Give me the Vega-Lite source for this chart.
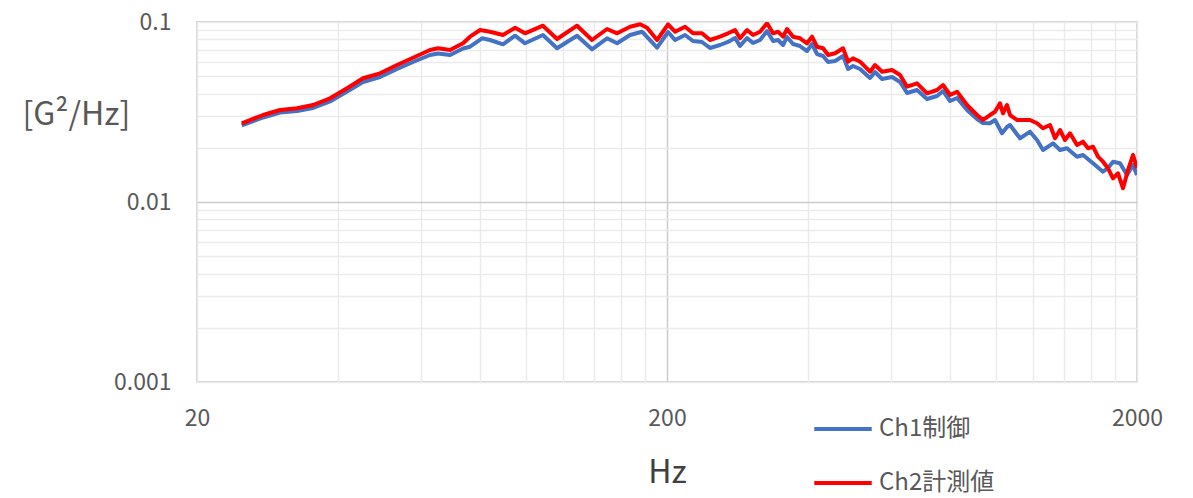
{
  "$schema": "https://vega.github.io/schema/vega-lite/v6.json",
  "width": 940,
  "height": 360,
  "autosize": "none",
  "padding": {"left": 197, "top": 22, "right": 56, "bottom": 116},
  "background": "white",
  "config": {
    "font": "Noto Sans CJK JP",
    "view": {"stroke": "#c4c4c4", "strokeWidth": 1.5}
  },
  "datasets": {
    "ch1": [
      {"f":24.90,"v":0.02661},{"f":27.64,"v":0.02948},{"f":30.04,"v":0.03142},{"f":32.65,"v":0.03203},{"f":35.31,"v":0.03328},{"f":38.38,"v":0.03617},{"f":41.71,"v":0.04110},{"f":45.11,"v":0.04642},{"f":49.02,"v":0.04948},{"f":53.29,"v":0.05481},{"f":57.62,"v":0.05995},{"f":62.64,"v":0.06557},{"f":65.14,"v":0.06684},{"f":69.09,"v":0.06557},{"f":73.63,"v":0.07125},{"f":76.20,"v":0.07291},{"f":80.83,"v":0.08118},{"f":84.04,"v":0.07943},{"f":89.55,"v":0.07518},{"f":95.01,"v":0.08392},{"f":99.75,"v":0.07615},{"f":108.9,"v":0.08468},{"f":116.7,"v":0.07144},{"f":128.7,"v":0.08392},{"f":138.5,"v":0.07052},{"f":149.1,"v":0.08118},{"f":156.6,"v":0.07615},{"f":166.9,"v":0.08468},{"f":177.0,"v":0.08833},{"f":190.5,"v":0.07198},{"f":201.0,"v":0.08799},{"f":208.0,"v":0.07943},{"f":218.5,"v":0.08468},{"f":227.2,"v":0.07842},{"f":237.4,"v":0.07743},{"f":246.9,"v":0.07170},{"f":259.3,"v":0.07451},{"f":269.7,"v":0.07743},{"f":279.1,"v":0.08149},{"f":286.0,"v":0.07356},{"f":296.0,"v":0.08149},{"f":304.9,"v":0.07644},{"f":315.5,"v":0.07943},{"f":326.5,"v":0.08913},{"f":336.3,"v":0.07842},{"f":344.6,"v":0.07943},{"f":353.1,"v":0.07451},{"f":360.1,"v":0.08254},{"f":370.8,"v":0.07547},{"f":383.8,"v":0.07356},{"f":397.2,"v":0.06900},{"f":407.0,"v":0.07547},{"f":417.1,"v":0.06641},{"f":429.6,"v":0.06473},{"f":440.3,"v":0.05995},{"f":455.6,"v":0.06072},{"f":473.8,"v":0.06473},{"f":485.6,"v":0.05481},{"f":497.6,"v":0.05696},{"f":515.0,"v":0.05481},{"f":540.8,"v":0.04885},{"f":554.2,"v":0.05275},{"f":573.6,"v":0.04823},{"f":602.4,"v":0.04948},{"f":626.4,"v":0.04642},{"f":648.3,"v":0.04032},{"f":680.8,"v":0.04190},{"f":715.0,"v":0.03734},{"f":750.9,"v":0.03881},{"f":773.3,"v":0.04137},{"f":800.3,"v":0.03640},{"f":828.2,"v":0.03783},{"f":869.8,"v":0.03244},{"f":913.4,"v":0.02892},{"f":940.7,"v":0.02747},{"f":973.2,"v":0.02737},{"f":997.5,"v":0.02855},{"f":1032.3,"v":0.02408},{"f":1057.9,"v":0.02610},{"f":1073.6,"v":0.02678},{"f":1127.5,"v":0.02259},{"f":1184.1,"v":0.02458},{"f":1225.4,"v":0.02210},{"f":1262.0,"v":0.01945},{"f":1325.4,"v":0.02119},{"f":1371.6,"v":0.01945},{"f":1419.4,"v":0.01988},{"f":1490.7,"v":0.01785},{"f":1535.2,"v":0.01824},{"f":1612.3,"v":0.01641},{"f":1693.2,"v":0.01474},{"f":1735.2,"v":0.01545},{"f":1778.2,"v":0.01675},{"f":1840.2,"v":0.01641},{"f":1904.4,"v":0.01413},{"f":1961.2,"v":0.01605},{"f":2000,"v":0.01413}
    ],
    "ch2": [
      {"f":24.90,"v":0.02737},{"f":27.64,"v":0.03043},{"f":30.04,"v":0.03244},{"f":32.65,"v":0.03316},{"f":35.31,"v":0.03459},{"f":38.38,"v":0.03768},{"f":41.71,"v":0.04282},{"f":45.11,"v":0.04867},{"f":49.02,"v":0.05188},{"f":53.29,"v":0.05769},{"f":57.62,"v":0.06334},{"f":62.64,"v":0.06989},{"f":65.14,"v":0.07144},{"f":69.09,"v":0.06989},{"f":73.63,"v":0.07615},{"f":76.20,"v":0.08286},{"f":80.04,"v":0.09027},{"f":84.04,"v":0.08833},{"f":89.55,"v":0.08468},{"f":95.01,"v":0.09297},{"f":99.75,"v":0.08654},{"f":108.9,"v":0.09538},{"f":116.7,"v":0.08046},{"f":128.7,"v":0.09538},{"f":138.5,"v":0.07943},{"f":149.1,"v":0.09144},{"f":156.6,"v":0.08654},{"f":166.9,"v":0.09416},{"f":175.3,"v":0.09710},{"f":181.4,"v":0.09297},{"f":190.5,"v":0.07943},{"f":201.0,"v":0.09710},{"f":208.0,"v":0.08833},{"f":218.5,"v":0.09416},{"f":227.2,"v":0.08654},{"f":237.4,"v":0.08654},{"f":246.9,"v":0.07943},{"f":259.3,"v":0.08286},{"f":269.7,"v":0.08654},{"f":279.1,"v":0.09027},{"f":286.0,"v":0.08118},{"f":296.0,"v":0.09027},{"f":304.9,"v":0.08468},{"f":315.5,"v":0.08833},{"f":326.5,"v":0.09835},{"f":336.3,"v":0.08654},{"f":344.6,"v":0.08833},{"f":353.1,"v":0.08286},{"f":360.1,"v":0.09144},{"f":370.8,"v":0.08286},{"f":383.8,"v":0.08118},{"f":397.2,"v":0.07615},{"f":407.0,"v":0.08286},{"f":417.1,"v":0.07291},{"f":429.6,"v":0.07144},{"f":440.3,"v":0.06557},{"f":455.6,"v":0.06701},{"f":473.8,"v":0.07144},{"f":485.6,"v":0.06018},{"f":497.6,"v":0.06286},{"f":515.0,"v":0.06018},{"f":540.8,"v":0.05295},{"f":554.2,"v":0.05769},{"f":573.6,"v":0.05295},{"f":602.4,"v":0.05412},{"f":626.4,"v":0.05076},{"f":648.3,"v":0.04371},{"f":680.8,"v":0.04565},{"f":715.0,"v":0.04017},{"f":750.9,"v":0.04190},{"f":773.3,"v":0.04467},{"f":800.3,"v":0.03930},{"f":828.2,"v":0.04100},{"f":869.8,"v":0.03459},{"f":913.4,"v":0.03043},{"f":940.7,"v":0.02855},{"f":973.2,"v":0.03043},{"f":997.5,"v":0.03174},{"f":1022.2,"v":0.03535},{"f":1037.3,"v":0.03110},{"f":1057.9,"v":0.03459},{"f":1073.6,"v":0.03043},{"f":1111.0,"v":0.02855},{"f":1144.2,"v":0.02855},{"f":1184.1,"v":0.02855},{"f":1225.4,"v":0.02737},{"f":1262.0,"v":0.02567},{"f":1306.0,"v":0.02678},{"f":1338.4,"v":0.02259},{"f":1371.6,"v":0.02512},{"f":1405.6,"v":0.02210},{"f":1440.5,"v":0.02408},{"f":1490.7,"v":0.02073},{"f":1535.2,"v":0.02163},{"f":1573.3,"v":0.01988},{"f":1612.3,"v":0.02029},{"f":1652.3,"v":0.01785},{"f":1693.2,"v":0.01675},{"f":1735.2,"v":0.01539},{"f":1778.2,"v":0.01354},{"f":1822.3,"v":0.01444},{"f":1867.5,"v":0.01192},{"f":1913.8,"v":0.01506},{"f":1961.2,"v":0.01824},{"f":2000,"v":0.01539}
    ]
  },
  "data": {"name": "ch1"},
  "transform": [
    {"calculate": "'Ch1制御'", "as": "s"}
  ],
  "layer": [
    {
      "mark": {"type": "line", "strokeWidth": 4, "clip": true, "strokeJoin": "round"},
      "encoding": {
        "x": {
          "field": "f", "type": "quantitative",
          "scale": {"type": "log", "domain": [20, 2000], "nice": false},
          "axis": {
            "values": [20,40,60,80,100,120,140,160,180,200,400,600,800,1000,1200,1400,1600,1800,2000],
            "labelExpr": "(datum.value == 20 || datum.value == 200 || datum.value == 2000) ? format(datum.value, 'd') : ''",
            "grid": true,
            "gridColor": {"condition": {"test": "datum.value == 200", "value": "#cccccc"}, "value": "#ebebeb"},
            "gridWidth": 1.5,
            "domain": false, "ticks": false,
            "labelOverlap": false, "labelFlush": false,
            "labelFontSize": 23, "labelColor": "#595959", "labelPadding": 25,
            "title": "Hz", "titleFontSize": 32, "titleFontWeight": "normal", "titleColor": "#404040",
            "titleX": 470, "titleY": 100, "titleBaseline": "alphabetic", "titleAlign": "center"
          }
        },
        "y": {
          "field": "v", "type": "quantitative",
          "scale": {"type": "log", "domain": [0.001, 0.1], "nice": false},
          "axis": {
            "values": [0.001,0.002,0.003,0.004,0.005,0.006,0.007,0.008,0.009,0.01,0.02,0.03,0.04,0.05,0.06,0.07,0.08,0.09,0.1],
            "labelExpr": "datum.value == 0.1 ? '0.1' : datum.value == 0.01 ? '0.01' : datum.value == 0.001 ? '0.001' : ''",
            "grid": true,
            "gridColor": {"condition": {"test": "datum.value == 0.01", "value": "#cccccc"}, "value": "#ebebeb"},
            "gridWidth": 1.5,
            "domain": false, "ticks": false,
            "labelOverlap": false, "labelFlush": false,
            "labelFontSize": 23, "labelColor": "#595959", "labelPadding": 26,
            "title": "[G²/Hz]", "titleAngle": 0, "titleFontSize": 32, "titleFontWeight": "normal", "titleColor": "#595959",
            "titleX": -175, "titleY": 92, "titleAlign": "left", "titleBaseline": "middle"
          }
        },
        "color": {
          "field": "s", "type": "nominal",
          "scale": {"domain": ["Ch1制御", "Ch2計測値"], "range": ["#4472C4", "#FF0000"]},
          "legend": {
            "orient": "none", "legendX": 615, "legendY": 376, "title": null,
            "direction": "vertical",
            "symbolType": "stroke", "symbolStrokeWidth": 4, "symbolSize": 3300,
            "labelFontSize": 24, "labelColor": "#595959", "labelOffset": 5,
            "rowPadding": 11, "padding": 0
          }
        }
      }
    },
    {
      "data": {"name": "ch2"},
      "transform": [{"calculate": "'Ch2計測値'", "as": "s"}],
      "mark": {"type": "line", "strokeWidth": 4, "clip": true, "strokeJoin": "round"},
      "encoding": {
        "x": {"field": "f", "type": "quantitative"},
        "y": {"field": "v", "type": "quantitative"},
        "color": {"field": "s", "type": "nominal"}
      }
    }
  ]
}
